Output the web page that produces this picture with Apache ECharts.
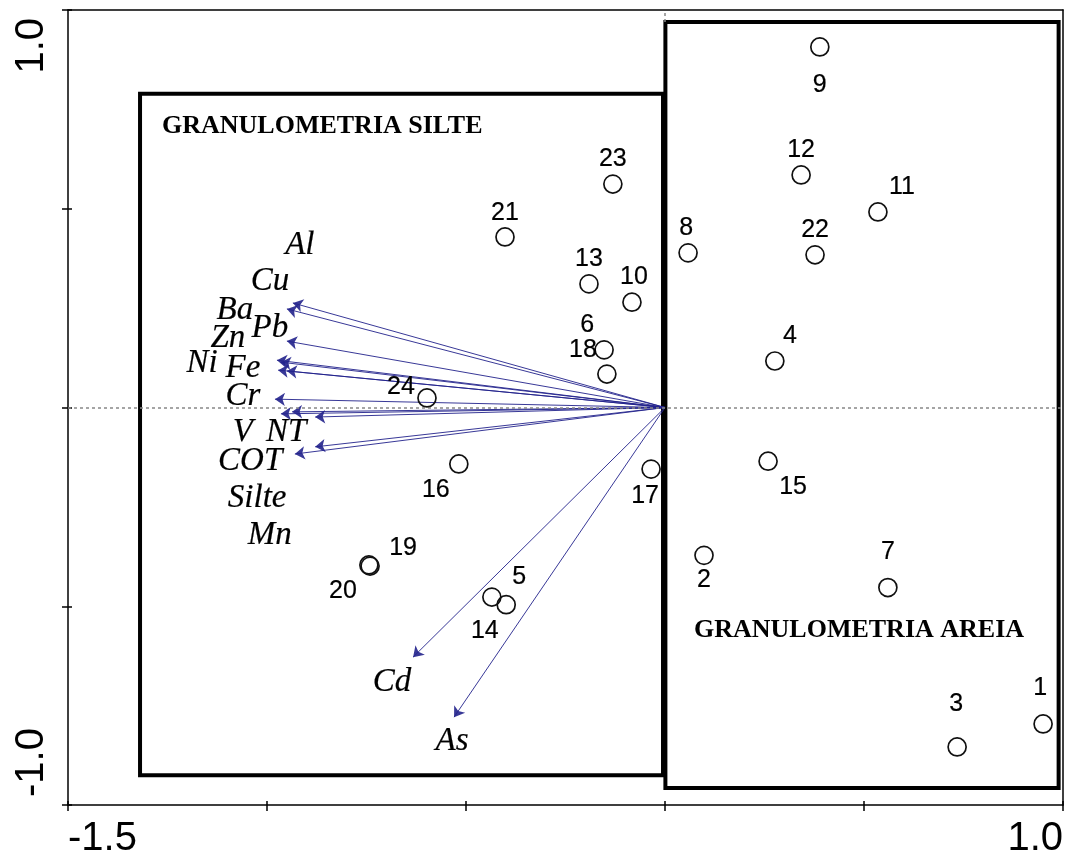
<!DOCTYPE html>
<html>
<head>
<meta charset="utf-8">
<script src="https://cdn.jsdelivr.net/npm/echarts@6/dist/echarts.min.js"></script>
<style>html,body{margin:0;padding:0;background:#fff}#c{width:1067px;height:863px}</style>
</head>
<body>
<div id="c"></div>
<script>
// ---- Data ----
var sampleNames = ['1','3','7','2','15','4','22','11','12','9','8','23','21','13','10','6','18','24','16','17','19','20','5','14'];
var sampleX = [0.950,0.734,0.560,0.098,0.259,0.276,0.377,0.535,0.342,0.389,0.058,-0.131,-0.402,-0.191,-0.083,-0.153,-0.146,-0.598,-0.518,-0.035,-0.741,-0.744,-0.399,-0.435];
var sampleY = [-0.796,-0.854,-0.453,-0.372,-0.135,0.117,0.384,0.492,0.585,0.907,0.389,0.562,0.429,0.311,0.265,0.145,0.084,0.024,-0.142,-0.155,-0.399,-0.396,-0.496,-0.477];

var varNames = ['Al','Cu','Ba','Pb','Zn','Ni','Fe','Cr','V','NT','COT','Silte','Mn','Cd','As'];
var varX = [-0.935,-0.950,-0.950,-0.975,-0.965,-0.972,-0.950,-0.980,-0.965,-0.937,-0.879,-0.879,-0.930,-0.633,-0.530];
var varY = [0.263,0.248,0.167,0.119,0.114,0.094,0.092,0.021,-0.016,-0.011,-0.024,-0.099,-0.117,-0.628,-0.779];

var xTickLabels = [-1.5, 1.0];
var yTickLabels = [-1.0, 1.0];

// box extents (data units) and titles
var boxSilte = [[-1.319, 0.789], [-0.005, -0.925]];
var boxAreia = [[0.001, 0.970], [0.989, -0.957]];
var boxTitles = ['GRANULOMETRIA SILTE', 'GRANULOMETRIA AREIA'];

// ---- Label placement (style, pixels) ----
var sampleLabelOffset = {
  '1':[-3,-36],'3':[-1,-43],'7':[0,-35],'2':[0,25],'15':[25,26],'4':[15,-25],'22':[0,-25],
  '11':[24,-25],'12':[0,-25],'9':[0,38],'8':[-2,-25],'23':[0,-25],'21':[0,-24],'13':[0,-25],
  '10':[2,-25],'6':[-17,-25],'18':[-24,-24],'24':[-26,-11],'16':[-23,26],'17':[-6,27],
  '19':[33,-18],'20':[-26,26],'5':[13,-28],'14':[-7,34]
};
var varLabelOffset = {
  'Al':[7,-58],'Cu':[-17,-28],'Ba':[-52,-31],'Pb':[-7,-32],'Zn':[-53,-24],'Ni':[-76,-7],
  'Fe':[-44,-3],'Cr':[-32,-3],'V':[-38,18],'NT':[-6,20],'COT':[-65,44],'Silte':[-58,51],
  'Mn':[-25,81],'Cd':[-21,25],'As':[-2,24]
};

var sampleData = sampleNames.map(function(n,i){
  return {name:n, value:[sampleX[i], sampleY[i]], label:{offset: sampleLabelOffset[n]}};
});
var arrowData = varNames.map(function(n,i){
  return {name:n, coords:[[0,0],[varX[i], varY[i]]]};
});
var varLabelData = varNames.map(function(n,i){
  return {name:n, value:[varX[i], varY[i]], label:{offset: varLabelOffset[n]}};
});

function fmt(list){ return function(v){ for (var i=0;i<list.length;i++){ if (Math.abs(v-list[i])<1e-9) return list[i].toFixed(1);} return ''; }; }

var chart = echarts.init(document.getElementById('c'), null, {renderer:'canvas'});
var axisLineStyle = {color:'#000', width:1.5};
var tickStyle = {color:'#000', width:1.5};
chart.setOption({
  animation:false,
  backgroundColor:'#fff',
  grid:{left:68, right:4, top:10, bottom:58, containLabel:false},
  xAxis:[{
    type:'value', min:-1.5, max:1.0, interval:0.5, position:'bottom',
    axisLine:{show:true, onZero:false, lineStyle:axisLineStyle},
    axisTick:{show:true, length:6, lineStyle:tickStyle},
    splitLine:{show:false},
    axisLabel:{formatter:fmt(xTickLabels), fontFamily:'Liberation Sans, Arial', fontSize:40, color:'#000', margin:14, alignMinLabel:'left', alignMaxLabel:'right', showMinLabel:true, showMaxLabel:true}
  },{
    type:'value', min:-1.5, max:1.0, interval:0.5, position:'top',
    axisLine:{show:true, onZero:false, lineStyle:axisLineStyle},
    axisTick:{show:false}, axisLabel:{show:false}, splitLine:{show:false}
  },{
    type:'value', min:-1.5, max:1.0, interval:0.5, position:'bottom',
    axisLine:{show:false, onZero:false},
    axisTick:{show:true, inside:true, length:4, lineStyle:tickStyle},
    axisLabel:{show:false}, splitLine:{show:false}
  }],
  yAxis:[{
    type:'value', min:-1.0, max:1.0, interval:0.5, position:'left',
    axisLine:{show:true, onZero:false, lineStyle:axisLineStyle},
    axisTick:{show:true, length:6, lineStyle:tickStyle},
    splitLine:{show:false},
    axisLabel:{formatter:fmt(yTickLabels), rotate:90, fontFamily:'Liberation Sans, Arial', fontSize:40, color:'#000', margin:16, padding:[0,8,0,8], alignMinLabel:'left', alignMaxLabel:'right', showMinLabel:true, showMaxLabel:true}
  },{
    type:'value', min:-1.0, max:1.0, interval:0.5, position:'right',
    axisLine:{show:true, onZero:false, lineStyle:axisLineStyle},
    axisTick:{show:false}, axisLabel:{show:false}, splitLine:{show:false}
  },{
    type:'value', min:-1.0, max:1.0, interval:0.5, position:'left',
    axisLine:{show:false, onZero:false},
    axisTick:{show:true, inside:true, length:4, lineStyle:tickStyle},
    axisLabel:{show:false}, splitLine:{show:false}
  }],
  graphic:[
    {type:'text', left:162, top:113, z:100, style:{text:boxTitles[0], font:'bold 26px "Liberation Serif", "Times New Roman", serif', fill:'#000'}},
    {type:'text', left:694, top:617, z:100, style:{text:boxTitles[1], font:'bold 26px "Liberation Serif", "Times New Roman", serif', fill:'#000'}}
  ],
  series:[
    {
      type:'lines', coordinateSystem:'cartesian2d', z:3,
      symbol:['none','arrow'], symbolSize:[0,10],
      lineStyle:{color:'#22228c', width:1, opacity:0.9},
      data:arrowData,
      markLine:{
        silent:true, symbol:['none','none'], label:{show:false},
        lineStyle:{color:'#888', type:[3,3], width:1.5},
        data:[
          [{coord:[0,0.97]},{coord:[0,1.0]}],
          [{coord:[-1.5,0]},{coord:[1.0,0]}]
        ]
      }
    },
    {
      type:'scatter', z:5, symbol:'circle', symbolSize:18,
      itemStyle:{color:'rgba(255,255,255,0)', borderColor:'#111', borderWidth:1.7, opacity:1},
      label:{show:true, position:'inside', formatter:'{b}', fontFamily:'Liberation Sans, Arial', fontSize:25, color:'#000', textBorderColor:'#000', textBorderWidth:0.2},
      data:sampleData
    },
    {
      type:'scatter', z:6, symbol:'circle', symbolSize:1,
      itemStyle:{color:'rgba(0,0,0,0)', opacity:1},
      label:{show:true, position:'inside', formatter:'{b}', fontFamily:'Liberation Serif, Times New Roman, serif', fontStyle:'italic', fontSize:33, color:'#000', textBorderColor:'#000', textBorderWidth:0.2},
      data:varLabelData
    },
    {
      type:'scatter', z:10, data:[], silent:true,
      markArea:{
        silent:true,
        itemStyle:{color:'rgba(0,0,0,0)', borderColor:'#000', borderWidth:4},
        data:[
          [{coord:boxSilte[0]},{coord:boxSilte[1]}],
          [{coord:boxAreia[0]},{coord:boxAreia[1]}]
        ]
      }
    }
  ]
});
</script>
</body>
</html>
